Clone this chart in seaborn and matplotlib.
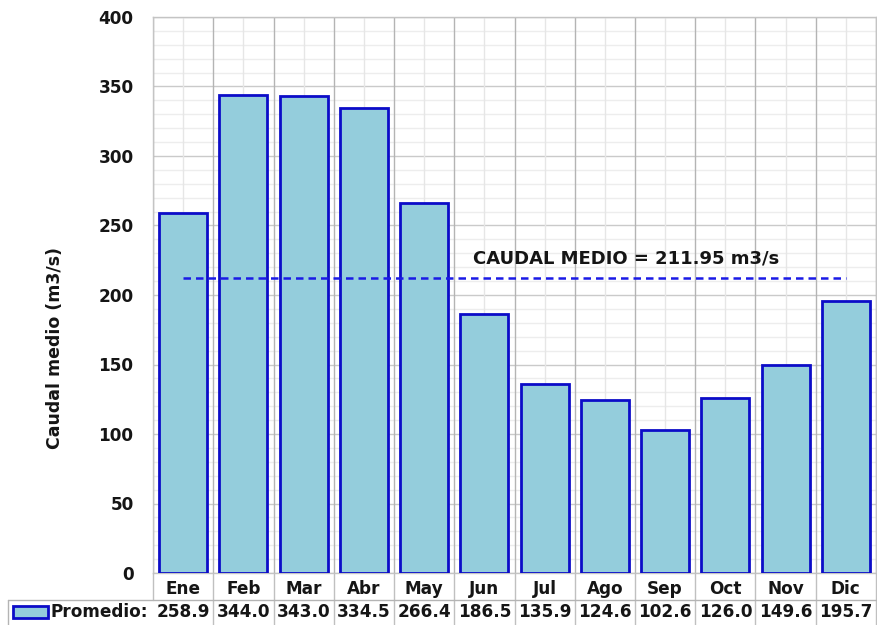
import matplotlib
matplotlib.use("Agg")
import matplotlib.pyplot as plt
import seaborn as sns
import pandas as pd
from matplotlib.patches import Rectangle
from matplotlib.lines import Line2D

months = ["Ene", "Feb", "Mar", "Abr", "May", "Jun", "Jul", "Ago", "Sep", "Oct", "Nov", "Dic"]
promedio = [258.9, 344.0, 343.0, 334.5, 266.4, 186.5, 135.9, 124.6, 102.6, 126.0, 149.6, 195.7]
caudal_medio = 211.95
series_label = "Promedio:"
y_label = "Caudal medio (m3/s)"
y_ticks = [0, 50, 100, 150, 200, 250, 300, 350, 400]

sns.set_theme(style="white")
plt.rcParams['font.family'] = ['DejaVu Sans']

W, H = 877, 625
FS = 12.2
TXT = "#151515"
fig = plt.figure(figsize=(W / 100, H / 100), dpi=100)
ax = fig.add_axes([153 / W, 1 - 573 / H, (876 - 153) / W, (573 - 17) / H])

df = pd.DataFrame({"mes": months, "valor": promedio})
FILL = "#94cddc"
EDGE = "#0c0cc8"
sns.barplot(data=df, x="mes", y="valor", color=FILL, saturation=1, edgecolor=EDGE,
            linewidth=2.0, width=0.8, ax=ax, zorder=3)

n = len(months)
ax.set_xlim(-0.5, n - 0.5)
ax.set_ylim(0, 400)
ax.set_yticks(y_ticks)
ax.set_yticklabels([str(t) for t in y_ticks], fontsize=FS, fontweight="bold", color=TXT)
ax.set_xticks(range(n))
ax.set_xticklabels(months, fontsize=FS, fontweight="bold", color=TXT)
ax.tick_params(axis="both", length=0)
ax.tick_params(axis="y", pad=14)
ax.tick_params(axis="x", pad=5)
ax.set_xlabel("")
ax.set_ylabel("")
fig.text(55 / W, 1 - 348 / H, y_label, fontsize=12.5, fontweight="bold", color=TXT,
         rotation=90, va="center", ha="center")

# grid
for v in range(0, 401, 10):
    major = v % 50 == 0
    ax.axhline(v, color="#cacaca" if major else "#ededed", lw=1.0, zorder=0)
for k in range(n + 1):
    ax.axvline(k - 0.5, color="#b4b4b4", lw=1.0, zorder=1)
for k in range(n):
    ax.axvline(k, color="#e6e6e6", lw=1.0, zorder=0)
for s in ax.spines.values():
    s.set_color("#c4c4c4")
    s.set_linewidth(1.0)

# mean line
ax.plot([0, n - 1], [caudal_medio, caudal_medio], color="#1a1ae6", lw=1.8,
        linestyle=(0, (3, 2)), zorder=4)
ax.text(4.81, 226, f"CAUDAL MEDIO = {caudal_medio:.2f} m3/s", fontsize=13,
        fontweight="bold", color=TXT, va="center", ha="left", zorder=5)

def fy(py):
    return 1 - py / H
def fx(px):
    return px / W

for k in range(n + 1):
    xk = k - 0.5
    fig_x = ax.transData.transform((xk, 0))[0] / W
    y_end = 600 if k == 0 else 625
    fig.add_artist(Line2D([fig_x, fig_x], [fy(573), fy(y_end)], color="#c0c0c0", lw=1.0,
                          transform=fig.transFigure))
fig.add_artist(Line2D([fx(8), fx(876)], [fy(600), fy(600)], color="#b4b4b4", lw=1.0,
                      transform=fig.transFigure))
fig.add_artist(Line2D([fx(8), fx(8)], [fy(600), fy(625)], color="#b4b4b4", lw=1.0,
                      transform=fig.transFigure))

# legend patch
fig.add_artist(Rectangle((fx(13), fy(618)), (48 - 13) / W, (618 - 606) / H,
                         facecolor=FILL, edgecolor=EDGE, lw=2.0, transform=fig.transFigure))
fig.text(fx(51), fy(612), series_label, fontsize=FS, fontweight="bold", color=TXT,
         va="center", ha="left")
for i, v in enumerate(promedio):
    cx = ax.transData.transform((i, 0))[0] / W
    fig.text(cx, fy(612), f"{v:.1f}", fontsize=FS, fontweight="bold", color=TXT,
             va="center", ha="center")

fig.savefig("out.png", dpi=100)
